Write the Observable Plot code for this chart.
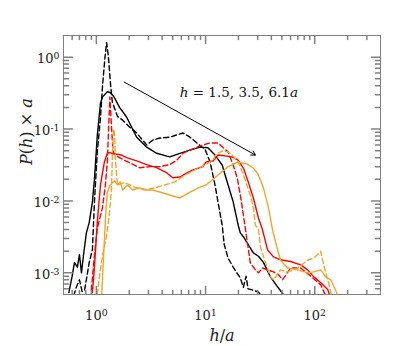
<!DOCTYPE html>
<html><head><meta charset="utf-8">
<script src="https://cdn.jsdelivr.net/npm/d3@7"></script>
<script src="https://cdn.jsdelivr.net/npm/@observablehq/plot@0.6"></script>
<style>body{margin:0;background:#fff;} svg text{font-family:"DejaVu Serif",serif !important;}</style>
</head><body><div id="chart"></div>
<script>
// [h/a, P(h) x a]
const blackSolid = [[0.56,5.3e-4],[0.60,9e-4],[0.63,1.4e-3],[0.67,1.2e-3],[0.70,1.8e-3],[0.73,1.0e-3],[0.77,2.0e-3],[0.81,3.6e-3],[0.86,5.0e-3],[0.92,9.7e-3],[0.96,0.02],[1.02,0.082],[1.09,0.23],[1.14,0.28],[1.26,0.33],[1.35,0.32],[1.45,0.28],[1.63,0.20],[1.89,0.147],[2.34,0.077],[2.89,0.056],[3.57,0.046],[4.42,0.042],[4.71,0.041],[5.82,0.046],[7.2,0.051],[8.9,0.056],[10.5,0.055],[12.2,0.0435],[14.2,0.0316],[15.1,0.023],[16.1,0.0167],[17.9,0.0097],[19.9,0.0046],[20.8,0.0036],[22.5,0.0031],[24.1,0.0026],[27.4,0.0019],[30.5,0.0017],[33.9,0.0014],[39.3,8.8e-4],[45.6,6.4e-4],[52,4.9e-4]];
const blackDashed = [[0.62,4.8e-4],[0.66,6.5e-4],[0.70,8e-4],[0.74,5.5e-4],[0.78,5.8e-4],[0.82,9e-4],[0.86,1.4e-3],[0.92,2.1e-3],[0.96,9.7e-3],[1.02,0.048],[1.09,0.142],[1.14,0.41],[1.20,1.0],[1.24,1.6],[1.29,1.0],[1.35,0.41],[1.40,0.237],[1.56,0.15],[1.74,0.133],[2.01,0.107],[2.34,0.088],[2.65,0.070],[2.89,0.060],[3.28,0.070],[3.81,0.075],[4.71,0.077],[5.46,0.083],[6.2,0.088],[7.2,0.077],[8.35,0.064],[9.0,0.058],[9.9,0.052],[11.0,0.0348],[12.2,0.0167],[13.0,0.0097],[14.2,0.0046],[14.8,0.0025],[16.1,0.0016],[17.9,0.0012],[20.8,8.5e-4],[22.2,6.3e-4],[23.5,9e-4],[24.5,6e-4],[26.8,5.8e-4],[30.5,5.4e-4],[33,4.8e-4]];
const redSolid = [[0.92,5.3e-4],[0.96,1.2e-3],[1.02,0.0051],[1.09,0.0167],[1.185,0.035],[1.26,0.046],[1.32,0.047],[1.47,0.045],[1.66,0.044],[1.89,0.040],[2.34,0.036],[2.89,0.032],[3.57,0.029],[4.42,0.0245],[5.01,0.021],[5.82,0.0215],[6.75,0.0245],[7.67,0.027],[9.48,0.030],[10.1,0.0348],[11.7,0.036],[13.0,0.0435],[17.5,0.041],[19.9,0.037],[22.2,0.0287],[24.6,0.0184],[27.4,0.011],[30.5,0.0058],[33.2,0.004],[36.9,0.0021],[41.9,0.00167],[48.6,0.00152],[60.1,0.00144],[74.3,0.00129],[86.1,0.0011],[97.9,8.8e-4],[113.6,7.3e-4],[131.8,5.8e-4],[137,4.8e-4]];
const redDashed = [[0.90,5.8e-4],[0.95,1.5e-3],[1.02,0.0042],[1.136,0.008],[1.21,0.0167],[1.26,0.035],[1.30,0.12],[1.33,0.28],[1.37,0.12],[1.42,0.05],[1.47,0.044],[1.63,0.040],[2.01,0.034],[2.49,0.029],[3.08,0.030],[3.81,0.030],[4.71,0.032],[5.46,0.037],[6.2,0.046],[7.2,0.051],[8.35,0.056],[9.48,0.060],[11.0,0.064],[13.0,0.064],[16.1,0.048],[17.9,0.0316],[19.5,0.021],[20.8,0.0121],[22.2,0.0064],[23.1,0.0042],[25.7,0.00138],[28.6,0.0011],[30.5,0.001],[33.2,0.00117],[36.9,0.0011],[41.9,0.00103],[46.6,9.4e-4],[50.7,8.0e-4],[60.1,0.00117],[74.3,0.00117],[91.8,9.0e-4],[113.6,6.8e-4],[126,4.8e-4]];
const orangeSolid = [[1.12,5e-4],[1.17,0.002],[1.22,0.007],[1.26,0.013],[1.32,0.016],[1.40,0.018],[1.47,0.019],[1.56,0.0167],[1.66,0.0184],[1.74,0.0142],[1.93,0.0167],[2.15,0.0142],[2.49,0.0152],[2.89,0.0142],[3.28,0.0142],[3.81,0.0133],[4.71,0.0121],[5.82,0.011],[7.2,0.0133],[8.9,0.0156],[10.1,0.0167],[13.0,0.023],[16.1,0.030],[19.9,0.0348],[24.1,0.0325],[27.4,0.0287],[30.5,0.023],[33.9,0.0152],[37.7,0.008],[41.0,0.004],[45.6,0.0021],[48.6,0.0015],[56.4,0.00117],[69.7,0.0011],[86.1,0.001],[97.9,0.00103],[113.6,0.0011],[126,8.8e-4],[140,8.0e-4],[150,6.4e-4],[163,4.8e-4]];
const orangeDashed = [[1.02,5e-4],[1.066,8.8e-4],[1.136,0.0017],[1.236,0.0032],[1.318,0.0068],[1.374,0.0142],[1.40,0.04],[1.435,0.10],[1.465,0.09],[1.50,0.035],[1.56,0.0167],[1.81,0.018],[2.24,0.0156],[2.77,0.0142],[3.42,0.0152],[4.23,0.0167],[5.23,0.0184],[6.47,0.023],[8.0,0.027],[9.9,0.0316],[11.7,0.037],[12.5,0.045],[14.5,0.050],[16,0.048],[17.5,0.0435],[19.9,0.0348],[22.2,0.023],[25.7,0.0121],[27.4,0.008],[28.6,0.0046],[30.5,0.004],[31.8,0.0023],[35.3,0.0014],[39.3,8.8e-4],[41.9,8e-4],[48.6,0.0011],[56.4,0.00103],[69.7,0.00117],[86.1,0.0015],[97.9,0.0016],[113.6,0.0020],[118,0.0015],[126,0.001],[134,7.3e-4],[140,5.3e-4],[143,4.8e-4]];

const xTickValues = [1, 10, 100];
const yTickValues = [1, 0.1, 0.01, 0.001];
const annotationText = "h = 1.5, 3.5, 6.1a";
const arrowFrom = [1.8, 0.45];
const arrowTo = [28.6, 0.0435];

const xDomain = [0.5, 400], yDomain = [5e-4, 2];
function minorTicks([lo, hi]) {
  const out = [];
  for (let e = -5; e <= 3; e++) for (let k = 2; k <= 9; k++) {
    const v = k * Math.pow(10, e);
    if (v > lo * 1.0001 && v < hi * 0.9999) out.push(v);
  }
  return out;
}
const xMinor = minorTicks(xDomain), yMinor = minorTicks(yDomain);

const series = [
  {pts: blackSolid, color: "#000000", dash: null},
  {pts: blackDashed, color: "#000000", dash: "5,3"},
  {pts: redSolid, color: "#ff0000", dash: null},
  {pts: redDashed, color: "#ff0000", dash: "5,3"},
  {pts: orangeSolid, color: "#f2a52a", dash: null},
  {pts: orangeDashed, color: "#f2a52a", dash: "5,3"}
];

const tickShape = {draw(ctx, l) { ctx.moveTo(0, 0); ctx.lineTo(0, -l); }};
const frameColor = "#808080";
function xTicks(vals, len) {
  return [
    Plot.vector(vals, {x: d => d, frameAnchor: "bottom", length: len, rotate: 0, anchor: "start", shape: tickShape, stroke: frameColor, fill: "none"}),
    Plot.vector(vals, {x: d => d, frameAnchor: "top", length: len, rotate: 180, anchor: "start", shape: tickShape, stroke: frameColor, fill: "none"})
  ];
}
function yTicks(vals, len) {
  return [
    Plot.vector(vals, {y: d => d, frameAnchor: "left", length: len, rotate: 90, anchor: "start", shape: tickShape, stroke: frameColor, fill: "none"}),
    Plot.vector(vals, {y: d => d, frameAnchor: "right", length: len, rotate: -90, anchor: "start", shape: tickShape, stroke: frameColor, fill: "none"})
  ];
}
const fmt = d => "10^" + Math.round(Math.log10(d));

const chart = Plot.plot({
  width: 415, height: 346,
  marginLeft: 63, marginRight: 35, marginTop: 35, marginBottom: 52,
  x: {type: "log", domain: xDomain},
  y: {type: "log", domain: yDomain},
  style: {background: "white", color: "#222"},
  marks: [
    ...series.map(s => Plot.line(s.pts, {x: d => d[0], y: d => d[1], stroke: s.color, strokeWidth: 1.4, strokeDasharray: s.dash, clip: true})),
    Plot.arrow([{x1: arrowFrom[0], y1: arrowFrom[1], x2: arrowTo[0], y2: arrowTo[1]}], {x1: "x1", y1: "y1", x2: "x2", y2: "y2", bend: 0, headLength: 7, stroke: "#000", strokeWidth: 1}),
    Plot.text([annotationText], {x: 5.8, y: 0.28, text: d => d, textAnchor: "start", lineAnchor: "bottom", fontSize: 13.5, fill: "#111"}),
    Plot.frame({stroke: frameColor}),
    ...xTicks(xTickValues, 8), ...xTicks(xMinor, 4),
    ...yTicks(yTickValues, 9), ...yTicks(yMinor, 5),
    Plot.axisX(xTickValues, {tickSize: 0, tickPadding: 16, tickFormat: fmt, fontSize: 13, label: null}),
    Plot.axisY(yTickValues, {tickSize: 0, tickPadding: 4, tickFormat: fmt, fontSize: 13, label: null, dy: 2}),
    Plot.text(["h/a"], {frameAnchor: "bottom", dy: 41, text: d => d, fontSize: 16, lineAnchor: "middle", fill: "#222"}),
    Plot.text(["P(h) × a"], {frameAnchor: "left", dx: -37, rotate: -90, text: d => d, fontSize: 16, lineAnchor: "middle", fill: "#222"})
  ]
});

const it = s => `<tspan font-style="italic">${s}</tspan>`;
chart.querySelectorAll("text").forEach(t => {
  const s = t.textContent;
  const m = s.match(/^10\^(-?\d+)$/);
  if (m) t.innerHTML = `10<tspan dy="-0.45em" font-size="0.72em">${m[1]}</tspan>`;
  else if (s === "h/a") t.innerHTML = `${it("h")}/${it("a")}`;
  else if (s === "P(h) × a") t.innerHTML = `${it("P")}(${it("h")}) × ${it("a")}`;
  else if (s === annotationText) t.innerHTML = `${it("h")} = 1.5, 3.5, 6.1${it("a")}`;
});
document.getElementById("chart").appendChild(chart);
</script>
</body></html>
